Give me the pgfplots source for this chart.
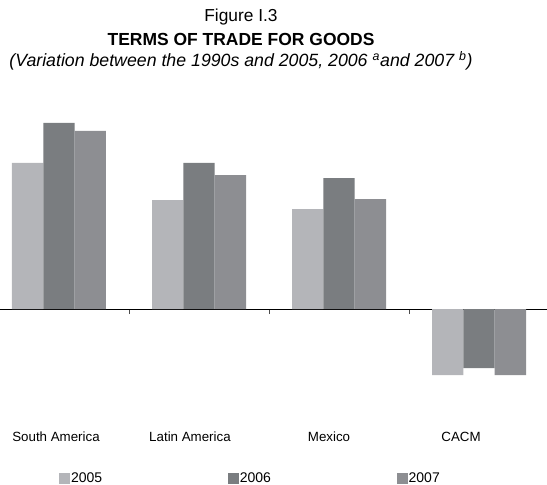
\documentclass[border=0pt]{standalone}
\usepackage{pgfplots}
\pgfplotsset{compat=1.18}
\usepackage{fontspec}
\setmainfont{Liberation Sans}
\definecolor{c05}{RGB}{180,181,185}
\definecolor{c06}{RGB}{122,125,128}
\definecolor{c07}{RGB}{141,142,146}
\begin{document}
\begin{tikzpicture}
\begin{axis}[
  width=410.25pt, height=216pt, scale only axis,
  xmin=-0.4214, xmax=3.4857,
  ymin=-18.2, ymax=39.4,
  axis x line=middle, axis y line=none,
  x axis line style={-, black, line width=0.6pt},
  xtick={0.5,1.5,2.5}, xticklabels={}, ytick=\empty,
  tick align=outside, major tick length=3.75pt,
  xtick style={black!70, line width=0.6pt},
  ybar=0pt, bar width=0.2238,
  clip=false,
  legend columns=3,
  legend style={at={(rel axis cs:0.1079,-0.2743)}, anchor=west, draw=none, fill=none,
    inner sep=0pt, outer sep=0pt, font=\fontsize{10.5}{12}\selectfont,
    nodes={inner sep=0.75pt},
    /tikz/every even column/.append style={column sep=93.5pt}},
  legend image code/.code={\fill[#1] (0pt,-4.1pt) rectangle (8.25pt,4.15pt);},
]
\addplot[fill=c05, draw=none] coordinates {(0,29.2) (1,21.8) (2,20) (3,-13.2)};
\addplot[fill=c06, draw=none] coordinates {(0,37.2) (1,29.2) (2,26.2) (3,-11.8)};
\addplot[fill=c07, draw=none] coordinates {(0,35.6) (1,26.8) (2,22) (3,-13.2)};
\legend{2005,2006,2007}
\coordinate (bl) at (rel axis cs:0,0);
\coordinate (tr) at (rel axis cs:1,1);
\begin{scope}[every node/.style={anchor=base, font=\fontsize{10}{12}\selectfont, inner sep=0pt}]
\node at (rel axis cs:0.1024,-0.1424) {South America};
\node at (rel axis cs:0.3473,-0.1424) {Latin America};
\node at (rel axis cs:0.6015,-0.1424) {Mexico};
\node at (rel axis cs:0.8428,-0.1424) {CACM};
\end{scope}
\node[anchor=base, inner sep=0pt, yshift=67.5pt, font=\fontsize{13}{15}\selectfont] at (rel axis cs:0.4406,1) {Figure I.3};
\node[anchor=base, inner sep=0pt, yshift=49.5pt, font=\fontsize{13.1}{15}\selectfont\bfseries] at (rel axis cs:0.4406,1) {TERMS OF TRADE FOR GOODS};
\node[anchor=base, inner sep=0pt, yshift=33.75pt, font=\fontsize{13.3}{15}\selectfont\itshape] at (rel axis cs:0.4406,1) {(Variation between the 1990s and 2005, 2006 \textsuperscript{a}and 2007 \textsuperscript{b})};
\end{axis}
\pgfresetboundingbox
\path[use as bounding box] ([yshift=-63pt]bl) rectangle ([yshift=84pt]tr);
\end{tikzpicture}
\end{document}
